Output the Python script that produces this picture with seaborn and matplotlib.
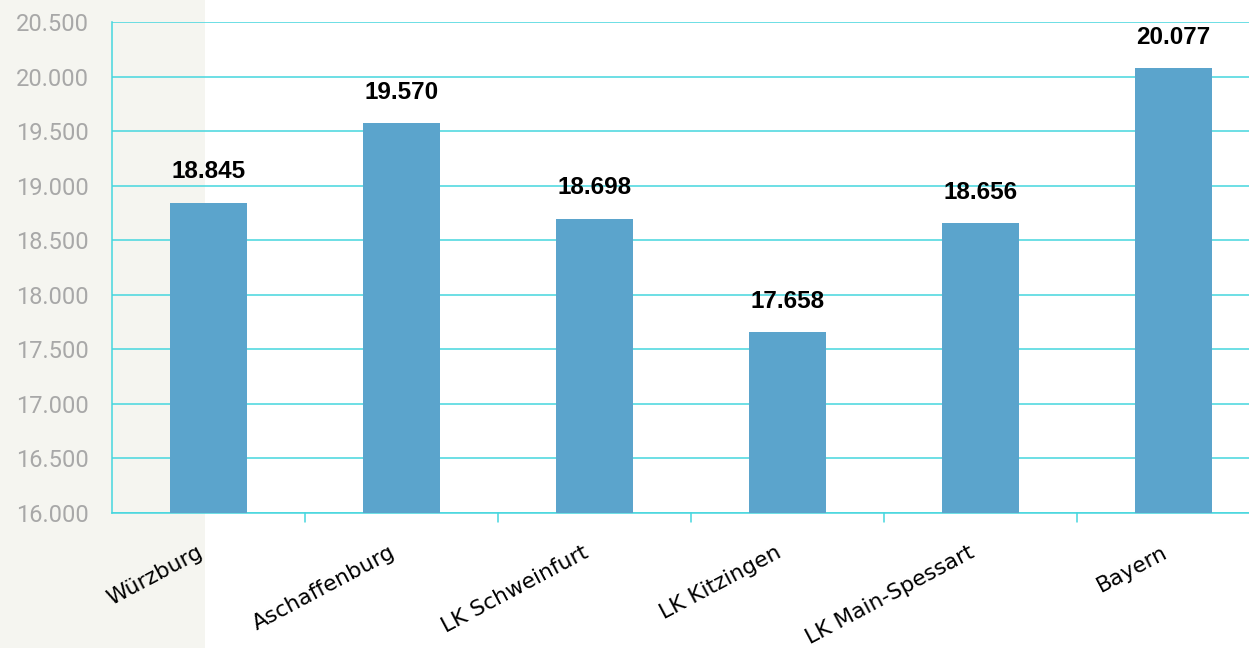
import matplotlib
matplotlib.use("Agg")
import matplotlib.pyplot as plt
import matplotlib.patches as mpatches
import matplotlib.transforms as mtransforms
import pandas as pd
import seaborn as sns

# data
regions = ["Würzburg", "Aschaffenburg", "LK Schweinfurt", "LK Kitzingen",
           "LK Main-Spessart", "Bayern"]
values = [18845, 19570, 18698, 17658, 18656, 20077]
y_ticks = [16000, 16500, 17000, 17500, 18000, 18500, 19000, 19500, 20000, 20500]

BAR_COLOR = "#5ba4cc"
GRID_COLOR = "#45d6de"
TICK_GRAY = "#a8a8a8"


def de_fmt(v):
    return f"{v:,.0f}".replace(",", ".")


df = pd.DataFrame({"region": regions, "value": values})

sns.set_theme(style="white")
plt.rcParams["font.family"] = ["DejaVu Sans"]

fig = plt.figure(figsize=(12.49, 6.48), dpi=100)
fig.patch.set_facecolor("white")
fig.patches.append(mpatches.Rectangle((0, 0), 205 / 1249, 1, transform=fig.transFigure,
                                      facecolor="#f5f5f0", edgecolor="none", zorder=-10))

ax = fig.add_axes([112 / 1249, 1 - 513 / 648, 1158 / 1249, 491 / 648])
ax.set_facecolor("none")

sns.barplot(data=df, x="region", y="value", color=BAR_COLOR, width=0.394,
            saturation=1, ax=ax, zorder=3)
for p in ax.patches:
    p.set_edgecolor("none")

ax.set_ylim(16000, 20500)
ax.set_yticks(y_ticks)
ax.set_yticklabels([de_fmt(t) for t in y_ticks], color=TICK_GRAY, fontsize=17,
                   fontfamily="Roboto")
ax.yaxis.grid(True, color=GRID_COLOR, linewidth=1.1, zorder=0)
ax.set_axisbelow(True)

ax.set_xlim(-0.5, 5.5)
ax.set_xticks(range(len(regions)))
ax.set_xticklabels(regions, rotation=28, ha="right", rotation_mode="anchor",
                   fontsize=15.7, color="black")
ax.tick_params(axis="x", length=0, pad=21)
ax.tick_params(axis="y", length=7, width=1.1, color=GRID_COLOR, direction="out", pad=10)
shift = mtransforms.ScaledTranslation(-12 / 100, 0, fig.dpi_scale_trans)
for lbl in ax.get_xticklabels():
    lbl.set_transform(lbl.get_transform() + shift)

# boundary ticks between categories on x axis
for b in [0.5, 1.5, 2.5, 3.5, 4.5]:
    ax.plot([b, b], [0, -0.018], transform=ax.get_xaxis_transform(), color=GRID_COLOR,
            linewidth=1.1, clip_on=False)

for side in ["top", "right"]:
    ax.spines[side].set_visible(False)
for side in ["left", "bottom"]:
    ax.spines[side].set_color(GRID_COLOR)
    ax.spines[side].set_linewidth(1.1)

ax.set_xlabel("")
ax.set_ylabel("")

for i, v in enumerate(values):
    ax.annotate(de_fmt(v), (i, v), xytext=(0, 14), textcoords="offset points",
                ha="center", va="bottom", fontsize=17.5, fontweight="bold",
                fontfamily="Liberation Sans", color="black")

fig.savefig("out.png", dpi=100)
